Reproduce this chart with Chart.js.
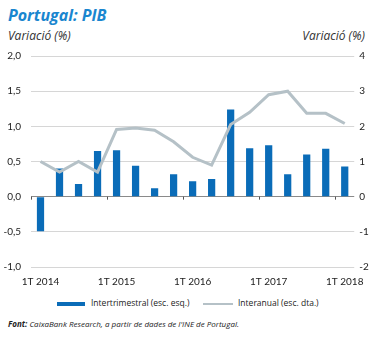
<!DOCTYPE html>
<html>
<head>
<meta charset="utf-8">
<script src="https://cdn.jsdelivr.net/npm/chart.js@4.4.0/dist/chart.umd.min.js"></script>
<style>
  body { margin: 0; background: #fff; font-family: Lato, "Open Sans", sans-serif; }
  #wrap { position: relative; width: 373px; height: 338px; overflow: hidden; }
  #box { position: absolute; left: 0; top: 0; width: 373px; height: 290px; }
  .title { position: absolute; left: 8px; top: 4px; font: italic 700 16px "Open Sans", sans-serif; color: #1a86cf; }
  .sub { position: absolute; top: 27px; font: italic 12px "Open Sans", sans-serif; color: #333; }
  .legend { position: absolute; top: 297px; font: 8.5px "Open Sans", sans-serif; color: #222; }
  .sw { position: absolute; }
  .src { position: absolute; left: 8px; top: 318px; font: italic 8px "Open Sans", sans-serif; color: #222; }
</style>
</head>
<body>
<div id="wrap">
  <div class="title">Portugal: PIB</div>
  <div class="sub" style="left:8px">Variació (%)</div>
  <div class="sub" style="right:8px">Variació (%)</div>
  <div id="box"><canvas id="myChart"></canvas></div>
  <div class="sw" style="left:57px; top:302px; width:28px; height:4px; background:#0a6cb8"></div>
  <div class="legend" style="left:91px">Intertrimestral (esc. esq.)</div>
  <div class="sw" style="left:203px; top:303px; width:30px; height:2px; background:#b5c1c7"></div>
  <div class="legend" style="left:238px">Interanual (esc. dta.)</div>
  <div class="src"><b>Font:</b> CaixaBank Research, a partir de dades de l'INE de Portugal.</div>
</div>
<script>
const quarters = ['1T 2014', '2T 2014', '3T 2014', '4T 2014',
  '1T 2015', '2T 2015', '3T 2015', '4T 2015',
  '1T 2016', '2T 2016', '3T 2016', '4T 2016',
  '1T 2017', '2T 2017', '3T 2017', '4T 2017', '1T 2018'];
// quarter-on-quarter, left axis
const intertrimestral = [-0.49, 0.40, 0.18, 0.65, 0.66, 0.44, 0.12, 0.32,
  0.22, 0.25, 1.24, 0.69, 0.73, 0.32, 0.60, 0.68, 0.43];
// year-on-year, right axis
const interanual = [1.0, 0.7, 1.0, 0.7, 1.91, 1.95, 1.89, 1.56,
  1.12, 0.9, 2.05, 2.4, 2.9, 3.0, 2.37, 2.37, 2.08];
const leftTicks = [-1.0, -0.5, 0.0, 0.5, 1.0, 1.5, 2.0];
const rightTicks = [-2, -1, 0, 1, 2, 3, 4];

const tickFont = { family: 'Lato, "Open Sans", sans-serif', size: 10 };

// small tick marks under the zero line at each year change
const yearTicks = {
  id: 'yearTicks',
  afterDatasetsDraw(chart) {
    const x = chart.scales.x, y0 = chart.scales.y.getPixelForValue(0);
    const c = chart.ctx;
    c.save();
    c.strokeStyle = '#555';
    c.lineWidth = 1;
    quarters.forEach((q, i) => {
      if (i % 4 !== 0) return;
      const px = i === 0 ? chart.chartArea.left
        : (x.getPixelForValue(i - 1) + x.getPixelForValue(i)) / 2;
      c.beginPath();
      c.moveTo(Math.round(px) + 0.5, y0);
      c.lineTo(Math.round(px) + 0.5, y0 + 3);
      c.stroke();
    });
    c.restore();
  }
};

new Chart(document.getElementById('myChart'), {
  data: {
    labels: quarters,
    datasets: [
      {
        type: 'line',
        label: 'Interanual (esc. dta.)',
        data: interanual,
        yAxisID: 'y1',
        borderColor: '#b5c1c7',
        borderWidth: 3,
        pointRadius: 0,
        tension: 0,
        order: 0
      },
      {
        type: 'bar',
        label: 'Intertrimestral (esc. esq.)',
        data: intertrimestral,
        yAxisID: 'y',
        backgroundColor: '#0a6cb8',
        categoryPercentage: 1,
        barPercentage: 0.38,
        order: 1
      }
    ]
  },
  options: {
    responsive: true,
    maintainAspectRatio: false,
    animation: false,
    layout: { padding: { top: 56, left: 0, right: 0, bottom: 0 } },
    plugins: { legend: { display: false }, tooltip: { enabled: false } },
    scales: {
      x: {
        offset: true,
        grid: { display: false, drawTicks: false },
        border: { display: false },
        ticks: {
          autoSkip: false, maxRotation: 0, padding: 9, color: '#222', font: tickFont,
          callback: function(v, i) { return i % 4 === 0 ? quarters[i] : ''; }
        },
        afterFit: function(s) { s.height = 23; }
      },
      y: {
        position: 'left',
        min: -1, max: 2,
        afterBuildTicks: function(s) { s.ticks = leftTicks.map(v => ({ value: v })); },
        grid: {
          drawTicks: false,
          color: ctx => ctx.tick && ctx.tick.value === 0 ? '#8a8a8a' : '#d6d6d6',
          lineWidth: 1
        },
        border: { display: false },
        ticks: {
          padding: 10, color: '#222', font: tickFont,
          callback: v => v.toFixed(1).replace('.', ',')
        },
        afterFit: function(s) { s.width = 31; }
      },
      y1: {
        position: 'right',
        min: -2, max: 4,
        afterBuildTicks: function(s) { s.ticks = rightTicks.map(v => ({ value: v })); },
        grid: { display: false, drawTicks: false },
        border: { display: false },
        ticks: { padding: 5, color: '#222', font: tickFont },
        afterFit: function(s) { s.width = 18; }
      }
    }
  },
  plugins: [yearTicks]
});
</script>
</body>
</html>
